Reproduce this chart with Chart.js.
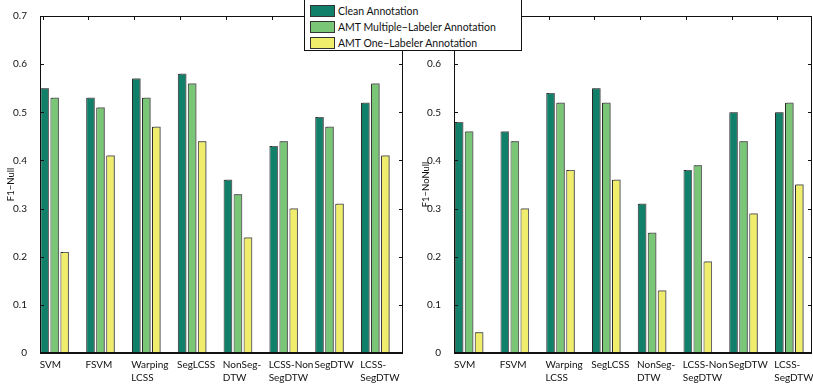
<!DOCTYPE html>
<html>
<head>
<meta charset="utf-8">
<script src="https://cdn.jsdelivr.net/npm/chart.js@4/dist/chart.umd.min.js"></script>
<style>
  html, body { margin: 0; padding: 0; background: #fff; }
  #wrap { position: relative; width: 813px; height: 384px; overflow: hidden; }
  canvas { position: absolute; left: 0; top: 0; }
  #legend { position: absolute; left: 304px; top: -1px; width: 216px; height: 50px;
            border: 1px solid #111; background: #fff; font-family: Lato, sans-serif;
            font-size: 10.5px; color: #111; z-index: 5; }
  .row { position: absolute; left: 5px; height: 12px; display: flex; align-items: center; }
  .sw { width: 25px; height: 12px; border: 1px solid #333; box-sizing: border-box; margin-right: 3px; }
</style>
</head>
<body>
<div id="wrap">
  <canvas id="c1" width="813" height="384"></canvas>
  <canvas id="c2" width="813" height="384"></canvas>
  <div id="legend"></div>
</div>
<script>
const categories = [["SVM"], ["FSVM"], ["Warping", "LCSS"], ["SegLCSS"], ["NonSeg-", "DTW"], ["LCSS-Non", "SegDTW"], ["SegDTW"], ["LCSS-", "SegDTW"]];
const seriesNames = ["Clean Annotation", "AMT Multiple\u2212Labeler Annotation", "AMT One\u2212Labeler Annotation"];
const yTicks = [0, 0.1, 0.2, 0.3, 0.4, 0.5, 0.6, 0.7];

const nullClean    = [0.55, 0.53, 0.57, 0.58, 0.36, 0.43, 0.49, 0.52];
const nullMulti    = [0.53, 0.51, 0.53, 0.56, 0.33, 0.44, 0.47, 0.56];
const nullOne      = [0.21, 0.41, 0.47, 0.44, 0.24, 0.30, 0.31, 0.41];

const noNullClean  = [0.48, 0.46, 0.54, 0.55, 0.31, 0.38, 0.50, 0.50];
const noNullMulti  = [0.46, 0.44, 0.52, 0.52, 0.25, 0.39, 0.44, 0.52];
const noNullOne    = [0.043, 0.30, 0.38, 0.36, 0.13, 0.19, 0.29, 0.35];

const colors = ["#10806a", "#79c677", "#f1ed6c"];
const FONT = "Lato, sans-serif";

// legend
const lg = document.getElementById('legend');
seriesNames.forEach((n, i) => {
  const r = document.createElement('div');
  r.className = 'row';
  r.style.top = (5 + i * 16) + 'px';
  r.innerHTML = '<span class="sw" style="background:' + colors[i] + '"></span><span>' + n + '</span>';
  lg.appendChild(r);
});

const boxPlugin = {
  id: 'box',
  beforeDatasetsDraw(chart) {
    const ctx = chart.ctx;
    ctx.save();
    ctx.shadowColor = 'rgba(110,110,110,0.9)';
    ctx.shadowOffsetX = 1.5;
    ctx.shadowOffsetY = -1;
    ctx.shadowBlur = 0;
  },
  afterDatasetsDraw(chart) {
    const ctx = chart.ctx;
    ctx.restore();
    const a = chart.chartArea;
    const xs = chart.scales.x, ys = chart.scales.y;
    ctx.save();
    ctx.strokeStyle = '#111';
    ctx.lineWidth = 1;
    ctx.beginPath();
    ctx.moveTo(a.left + 0.5, a.bottom);
    ctx.lineTo(a.left + 0.5, a.top + 0.5);
    ctx.lineTo(a.right - 0.5, a.top + 0.5);
    ctx.lineTo(a.right - 0.5, a.bottom);
    xs.ticks.forEach(t => {
      const p = Math.round(xs.getPixelForValue(t.value)) + 0.5;
      ctx.moveTo(p, a.top); ctx.lineTo(p, a.top + 4);
    });
    ys.ticks.forEach(t => {
      const p = Math.round(ys.getPixelForValue(t.value)) + 0.5;
      ctx.moveTo(a.left, p); ctx.lineTo(a.left + 4, p);
      ctx.moveTo(a.right, p); ctx.lineTo(a.right - 4, p);
    });
    ctx.stroke();
    ctx.lineWidth = 2;
    ctx.beginPath();
    ctx.moveTo(a.left, a.bottom);
    ctx.lineTo(a.right, a.bottom);
    ctx.stroke();
    ctx.restore();
  }
};

function makeChart(id, vals, title, xmin, xmax, yWidth, pad, titlePad) {
  return new Chart(document.getElementById(id), {
    type: 'bar',
    data: {
      datasets: vals.map((v, k) => ({
        label: seriesNames[k],
        data: v.map((y, i) => ({ x: i, y: y })),
        backgroundColor: colors[k],
        borderColor: '#2a2a2a',
        borderWidth: 1,
        categoryPercentage: 0.656,
        barPercentage: 0.85
      }))
    },
    options: {
      responsive: false,
      animation: false,
      events: [],
      layout: { padding: pad },
      plugins: { legend: { display: false }, tooltip: { enabled: false } },
      scales: {
        x: {
          type: 'linear',
          offset: false,
          min: xmin, max: xmax,
          grid: { display: false, offset: false },
          border: { display: false },
          afterBuildTicks: s => { s.ticks = categories.map((c, i) => ({ value: i - 0.262 })); },
          afterFit: s => { s.height = 31; s.paddingLeft = 0; s.paddingRight = 0; },
          ticks: {
            autoSkip: false, maxRotation: 0, align: 'start', labelOffset: -3, padding: -2,
            color: '#111', font: { family: FONT, size: 10, lineHeight: 1.25 },
            callback: (v, i) => categories[i]
          }
        },
        y: {
          min: 0, max: 0.7,
          grid: { display: false },
          border: { display: false },
          afterBuildTicks: s => { s.ticks = yTicks.map(v => ({ value: v })); },
          afterFit: s => { s.width = yWidth; s.paddingTop = 0; s.paddingBottom = 0; },
          title: { display: true, text: title, color: '#111', font: { family: FONT, size: 9.5 }, padding: { top: titlePad, bottom: 0 } },
          ticks: {
            color: '#111', padding: 5, font: { family: FONT, size: 10 },
            callback: v => v === 0 ? '0' : v.toFixed(1)
          }
        }
      }
    },
    plugins: [boxPlugin]
  });
}

makeChart('c1', [nullClean, nullMulti, nullOne], 'F1\u2212Null', -0.32, 7.605, 40, { left: 0, top: 16, right: 410, bottom: 0 }, 5);
makeChart('c2', [noNullClean, noNullMulti, noNullOne], 'F1\u2212NoNull', -0.328, 7.497, 34, { left: 420, top: 16, right: 1, bottom: 0 }, 0);
</script>
</body>
</html>
